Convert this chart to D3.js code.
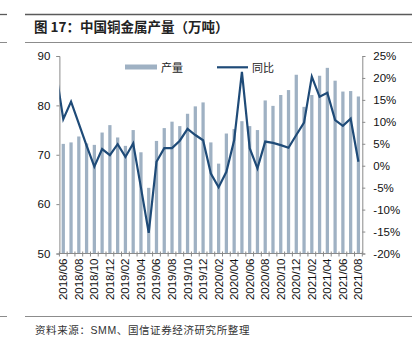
<!DOCTYPE html>
<html>
<head>
<meta charset="utf-8">
<script src="https://cdn.jsdelivr.net/npm/d3@7/dist/d3.min.js"></script>
<style>
  html, body { margin: 0; padding: 0; background: #fff; }
  svg { display: block; }
  .num { font-family: "Liberation Sans", Arial, sans-serif; }
  .cjk { font-family: "Noto Sans CJK SC", "Liberation Sans", sans-serif; }
</style>
</head>
<body>
<script>
// Monthly categories, 2018/06 – 2021/08
const months = [
  "2018/06","2018/07","2018/08","2018/09","2018/10","2018/11","2018/12",
  "2019/01","2019/02","2019/03","2019/04","2019/05","2019/06","2019/07","2019/08","2019/09","2019/10","2019/11","2019/12",
  "2020/01","2020/02","2020/03","2020/04","2020/05","2020/06","2020/07","2020/08","2020/09","2020/10","2020/11","2020/12",
  "2021/01","2021/02","2021/03","2021/04","2021/05","2021/06","2021/07","2021/08"
];

// Copper output, 10k tonnes
const output = [
  72.2, 72.5, 73.7, 72.3, 72.0, 74.5, 76.0,
  73.5, 71.8, 75.0, 70.5, 63.3, 72.8, 75.4, 76.7, 75.8, 78.3, 79.8, 80.6,
  72.5, 68.2, 74.3, 75.2, 76.8, 75.8, 75.0, 81.0, 79.9, 82.1, 83.1, 86.2,
  79.7, 82.1, 86.0, 87.6, 85.0, 82.8, 82.9, 81.8
];

// Year-on-year change, %
const yoy = [
  10.6, 14.6, 9.6, 4.6, -0.2, 3.8, 2.4,
  4.9, 2.0, 5.1, -5.0, -15.3, 0.9, 4.0, 4.0, 5.7, 8.4, 7.0, 5.8,
  -1.8, -4.9, -1.4, 5.8, 21.4, 4.0, -0.6, 5.5, 5.2, 4.7, 4.1, 7.0,
  9.8, 20.3, 15.7, 16.6, 10.4, 9.1, 10.7, 0.9
];
// 2018/05 value; only the segment leading into the first month is visible
const yoyLead = 22.1;

const leftTicks = [50, 60, 70, 80, 90];
const rightTicks = [-20, -15, -10, -5, 0, 5, 10, 15, 20, 25];

const titleText = "图 17：中国铜金属产量（万吨）";
const sourceParts = [
  { t: "资料来源：", cls: "cjk" },
  { t: "SMM", cls: "num" },
  { t: "、国信证券经济研究所整理", cls: "cjk" }
];
const legendNames = ["产量", "同比"];

const W = 418, H = 346;
const plot = { left: 59.4, right: 362.3, top: 56, bottom: 253.5 };
const barColor = "#9fb1c3";
const lineColor = "#1f4b78";
const axisColor = "#8a8a8a";

const svg = d3.select("body").append("svg").attr("width", W).attr("height", H);

// Page rules around the title and the source note
const rules = [
  { y: 14.5, c: "#5a5a5a", w: 1.3 },
  { y: 42.5, c: "#8c8c8c", w: 1 },
  { y: 316.5, c: "#8c8c8c", w: 1 }
];
rules.forEach(r => {
  svg.append("line").attr("x1", 25).attr("x2", 412).attr("y1", r.y).attr("y2", r.y)
    .attr("stroke", r.c).attr("stroke-width", r.w);
  svg.append("line").attr("x1", 0).attr("x2", 7).attr("y1", r.y).attr("y2", r.y)
    .attr("stroke", r.c).attr("stroke-width", r.w);
});

svg.append("text").attr("class", "cjk").attr("x", 34).attr("y", 32)
  .attr("font-size", 13.5).attr("font-weight", "bold").attr("fill", "#222")
  .text(titleText);

const src = svg.append("text").attr("x", 35).attr("y", 334)
  .attr("font-size", 10.5).attr("letter-spacing", 0.6).attr("fill", "#333");
sourceParts.forEach(p => src.append("tspan").attr("class", p.cls).text(p.t));

// Scales
const x = d3.scaleBand().domain(months).range([plot.left, plot.right])
  .paddingInner(0.58).paddingOuter(0.29);
const step = x.step();
const cx = d => x(d) + x.bandwidth() / 2;
const yL = d3.scaleLinear().domain([50, 90]).range([plot.bottom, plot.top]);
const yR = d3.scaleLinear().domain([-20, 25]).range([plot.bottom, plot.top]);

// Bars
svg.append("g").selectAll("rect").data(months).join("rect")
  .attr("x", d => x(d))
  .attr("width", x.bandwidth())
  .attr("y", (d, i) => yL(output[i]))
  .attr("height", (d, i) => yL(50) - yL(output[i]))
  .attr("fill", barColor);

// Axes
const gL = svg.append("g").attr("transform", `translate(${plot.left},0)`)
  .call(d3.axisLeft(yL).tickValues(leftTicks).tickSize(3).tickPadding(6));
const gR = svg.append("g").attr("transform", `translate(${plot.right},0)`)
  .call(d3.axisRight(yR).tickValues(rightTicks).tickSize(3).tickPadding(8)
    .tickFormat(d => d + "%"));
[gL, gR].forEach(g => {
  g.select(".domain").attr("stroke", axisColor);
  g.selectAll(".tick line").attr("stroke", axisColor);
  g.selectAll(".tick text").attr("class", "num").attr("font-size", 11.5).attr("fill", "#111");
});

// Category axis: line, boundary ticks and every other month label
const gB = svg.append("g");
gB.append("line").attr("x1", plot.left).attr("x2", plot.right)
  .attr("y1", plot.bottom).attr("y2", plot.bottom).attr("stroke", axisColor);
const bounds = months.map(d => cx(d) - step / 2).concat([cx(months[months.length - 1]) + step / 2]);
gB.selectAll("line.bt").data(bounds).join("line").attr("class", "bt")
  .attr("x1", d => d).attr("x2", d => d)
  .attr("y1", plot.bottom - 2).attr("y2", plot.bottom + 3)
  .attr("stroke", axisColor);
gB.selectAll("text").data(months.filter((d, i) => i % 2 === 0)).join("text")
  .attr("class", "num").attr("font-size", 11.5).attr("fill", "#111")
  .attr("text-anchor", "end")
  .attr("transform", d => `translate(${cx(d) + 4},${plot.bottom + 5}) rotate(-90)`)
  .text(d => d);

// YoY line, clipped to the plot area
svg.append("clipPath").attr("id", "plotClip").append("rect")
  .attr("x", plot.left).attr("y", plot.top - 5)
  .attr("width", plot.right - plot.left).attr("height", plot.bottom - plot.top + 10);
const linePts = [[cx(months[0]) - step, yoyLead]].concat(months.map((d, i) => [cx(d), yoy[i]]));
svg.append("path").datum(linePts)
  .attr("clip-path", "url(#plotClip)")
  .attr("fill", "none").attr("stroke", lineColor).attr("stroke-width", 2.2)
  .attr("stroke-linejoin", "miter")
  .attr("d", d3.line().x(p => p[0]).y(p => yR(p[1])));

// Legend
const lg = svg.append("g").attr("class", "cjk");
lg.append("rect").attr("x", 125).attr("y", 64.5).attr("width", 32).attr("height", 5).attr("fill", barColor);
lg.append("text").attr("x", 161).attr("y", 71.5).attr("font-size", 11).attr("fill", "#222").text(legendNames[0]);
lg.append("line").attr("x1", 217).attr("x2", 248).attr("y1", 67.3).attr("y2", 67.3)
  .attr("stroke", lineColor).attr("stroke-width", 2.2);
lg.append("text").attr("x", 252).attr("y", 71.5).attr("font-size", 11).attr("fill", "#222").text(legendNames[1]);
</script>
</body>
</html>
